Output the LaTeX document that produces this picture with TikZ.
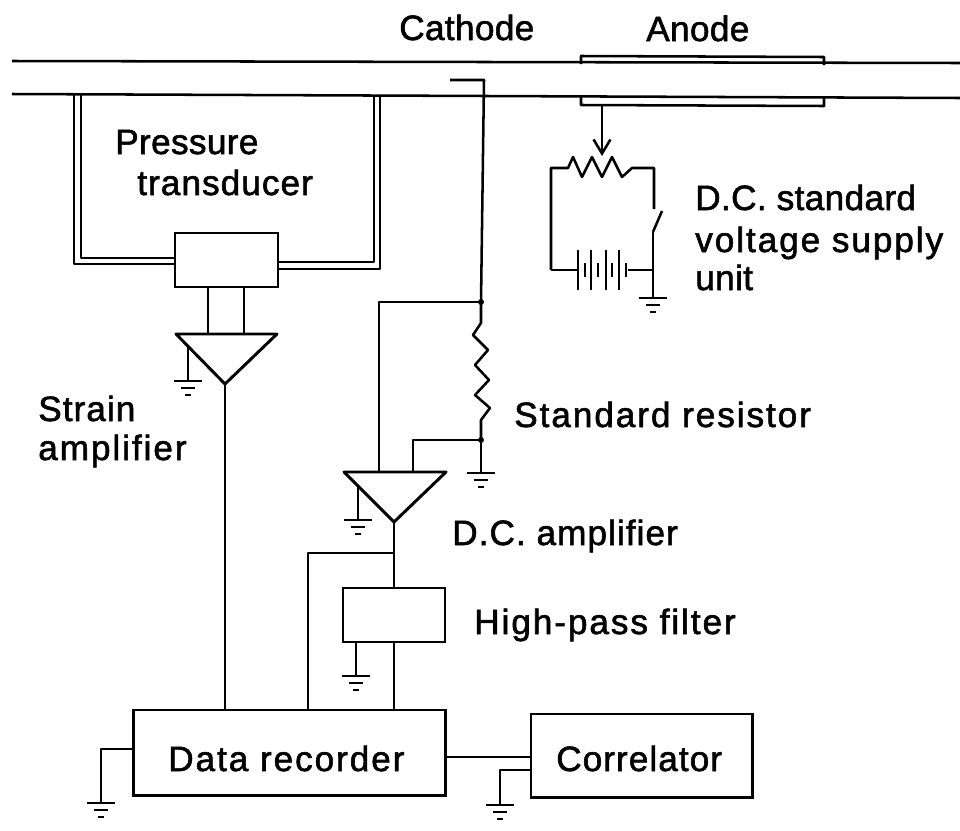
\documentclass[tikz,border=0pt]{standalone}
\usepackage{fontspec}
\setmainfont[FakeBold=1.6]{Liberation Sans}
\newfontfamily\tightfont[FakeBold=1.6,LetterSpace=1]{Liberation Sans}
\newfontfamily\midfont[FakeBold=1.6,LetterSpace=3]{Liberation Sans}
\newfontfamily\widefont[FakeBold=1.6,LetterSpace=5.5]{Liberation Sans}
\usetikzlibrary{arrows.meta,calc}
\tikzset{
	wire/.style={line width=1.8pt,line join=round},
	lbl/.style={anchor=base west,inner sep=0pt,font=\fontsize{25}{30}\selectfont\tightfont},
	lblmid/.style={lbl,font=\fontsize{25}{30}\selectfont\midfont},
	lblwide/.style={lbl,font=\fontsize{25}{30}\selectfont\widefont},
	box/.style={draw,line width=2.1pt,inner sep=0pt},
	earth/.pic={\draw[line width=1.9pt] (-14,0) -- (14,0) (-7,7) -- (7,7) (-3,14) -- (3,14);}
}
\begin{document}
\begin{tikzpicture}[x=0.025cm,y=-0.025cm]
\useasboundingbox (0,0) rectangle (960,830);
%tube
\begin{scope}[wire]
	\draw (12,61) -- (960,63);
	\draw (12,94) -- (960,98);
	\draw (581,64) -- (581,56) -- (824,57) -- (824,65);
	\draw (581,97) -- (581,105) -- (824,106) -- (824,98);
\end{scope}
\node[lbl] (cathode) at (399,40) {Cathode};
\node[lbl] (anode) at (646,41) {Anode};
%transducer
\node[box,minimum width=2.575cm,minimum height=1.35cm] (sensor) at (226.5,260) {};
\begin{scope}[wire,line width=1.5pt]
	\draw (74,95) -- (74,264) -- (sensor.west |- 0,264);
	\draw (81,95) -- (81,258) -- (sensor.west |- 0,258);
	\draw (380,97) -- (380,269) -- (sensor.east |- 0,269);
	\draw (374,97) -- (374,262) -- (sensor.east |- 0,262);
\end{scope}
\node[lbl] (pressure) at (115,154) {Pressure};
\node[lblmid] (transducer) at (137,195) {transducer};
%strain amplifier
\coordinate (sa1) at (176,334);
\coordinate (sa2) at (277,334);
\coordinate (sa3) at (225,384);
\draw[wire,line width=2.1pt] (sa1) -- (sa2) -- (sa3) -- cycle;
\draw[wire] (208,287) -- (208,334) (244,287) -- (244,334);
\draw[wire] (188,347) -- (188,381) pic {earth};
\node[lblmid] (strain) at (38,421) {Strain};
\node[lblwide] (ampl) at (38,460) {amplifier};
%supply unit
\begin{scope}[wire]
	\draw[-{Straight Barb[length=10pt,width=12pt]}] (602,106) -- (602,156);
	\draw (551,270) -- (551,168) -- (568,168) -- (573,157) -- (582,177) -- (592,157) -- (602,177)
		-- (612,157) -- (622,177) -- (632,168) -- (654,168) -- (654,209);
	\draw (653,232) -- (662,211);
	\draw (551,270) -- (578,270);
	\draw (653,232) -- (653,298) pic {earth};
	\draw (628,270) -- (653,270);
	\foreach \xb in {578,591,606,619} \draw[line width=1.9pt] (\xb,250) -- (\xb,290);
	\foreach \xb in {585,598,612,626} \draw[line width=1.9pt] (\xb,263) -- (\xb,277);
\end{scope}
\node[lbl] (dc1) at (695,210) {D.C. standard};
\node[lblwide] (dc2) at (695,252) {voltage supply};
\node[lbl] (dc3) at (695,290) {unit};
%resistor
\coordinate (top) at (481,302);
\coordinate (bot) at (481,440);
\begin{scope}[wire]
	\draw (450,80) -- (484,80) -- (top);
	\draw (top) -- (481,323) -- (473,335) -- (488,350) -- (475,365) -- (489,380) -- (475,395)
		-- (490,408) -- (481,420) -- (bot);
	\draw (bot) -- (481,473) pic {earth};
	\fill (top) circle (3) (bot) circle (3);
\end{scope}
\node[lblwide] (stdres) at (514,427) {Standard resistor};
%dc amplifier
\coordinate (da1) at (344,472);
\coordinate (da2) at (446,472);
\coordinate (da3) at (394,522);
\draw[wire,line width=2.1pt] (da1) -- (da2) -- (da3) -- cycle;
\draw[wire] (top) -- (379,302) -- (379,472);
\draw[wire] (bot) -- (413,440) -- (413,472);
\draw[wire] (358,487) -- (358,520) pic {earth};
\node[lblmid] (dcamp) at (452,545) {D.C. amplifier};
%filter and recorder
\node[box,minimum width=2.55cm,minimum height=1.35cm] (filter) at (394,615) {};
\node[lblwide] (hpf) at (474,634) {High-pass filter};
\node[box,minimum width=7.775cm,minimum height=2.125cm] (recorder) at (289.5,752.5) {};
\node[box,minimum width=5.525cm,minimum height=2.075cm] (correlator) at (641.5,755.5) {};
\node[lblwide] (rectext) at (168,771) {Data recorder};
\node[lblmid] (cortext) at (556,771) {Correlator};
\coordinate (tee) at (394,553);
\coordinate (lnk) at (531,757);
\begin{scope}[wire]
	\draw (da3) -- (filter.north);
	\draw (tee) -- (308,553) -- (308,710);
	\draw (filter.south) -- (filter.south |- recorder.north);
	\draw (356,642) -- (356,676) pic {earth};
	\draw (sa3) -- (sa3 |- recorder.north);
	\draw (lnk -| recorder.east) -- (lnk);
	\draw (134,749) -- (101,749) -- (101,803) pic {earth};
	\draw (531,770) -- (500,770) -- (500,805) pic {earth};
\end{scope}
\end{tikzpicture}
\end{document}
